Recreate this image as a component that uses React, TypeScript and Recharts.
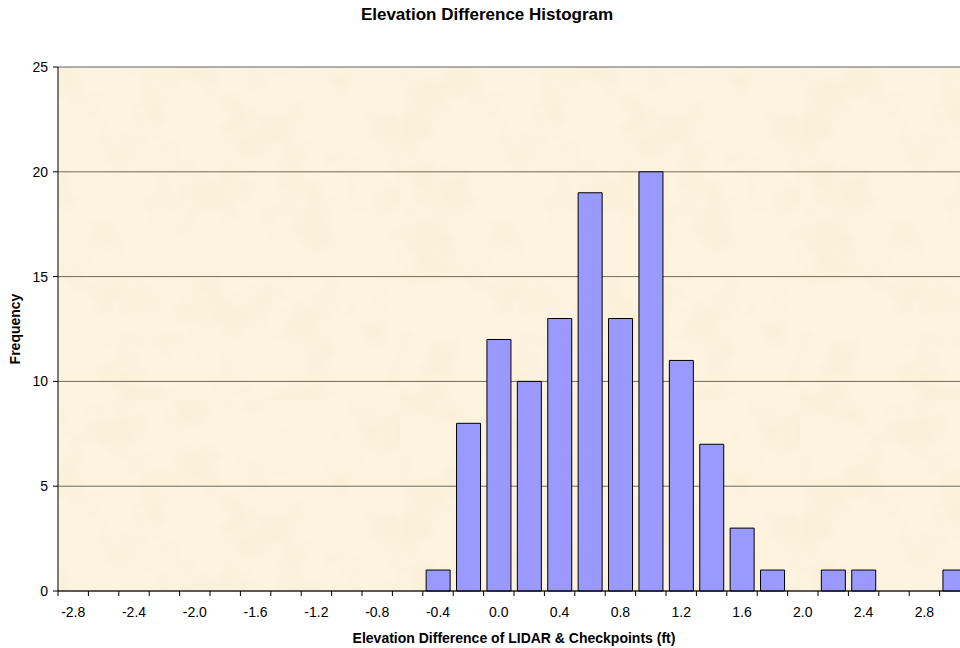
import { BarChart, Bar, XAxis, YAxis, CartesianGrid, ReferenceLine } from "recharts";

// bin centres (ft) and counts
const bins = [
  "-2.8", "-2.6", "-2.4", "-2.2", "-2.0", "-1.8", "-1.6", "-1.4", "-1.2", "-1.0",
  "-0.8", "-0.6", "-0.4", "-0.2", "0.0", "0.2", "0.4", "0.6", "0.8", "1.0",
  "1.2", "1.4", "1.6", "1.8", "2.0", "2.2", "2.4", "2.6", "2.8", "3.0",
];
const counts = [
  0, 0, 0, 0, 0, 0, 0, 0, 0, 0,
  0, 0, 1, 8, 12, 10, 13, 19, 13, 20,
  11, 7, 3, 1, 0, 1, 1, 0, 0, 1,
];
const yTicks = [0, 5, 10, 15, 20, 25];

const data = bins.map((bin, i) => ({ bin, count: counts[i] }));

const FONT = "Arial, 'Liberation Sans', Helvetica, sans-serif";

// tick mark on the left edge of each bin, label on every other bin
function BinTick(props: any) {
  const { x, y, payload, index } = props;
  const half = payload && payload.offset ? payload.offset : 15.2;
  return (
    <g>
      <line x1={x - half} x2={x - half} y1={y - 8} y2={y - 3} stroke="#000" />
      {index % 2 === 0 && (
        <text x={x} y={y + 18} textAnchor="middle" fontSize={14} fill="#000" fontFamily={FONT}>
          {payload.value}
        </text>
      )}
    </g>
  );
}

export default function App() {
  return (
    <div
      style={{
        position: "fixed",
        left: 0,
        top: 0,
        width: 960,
        height: 648,
        overflow: "hidden",
        background: "#fff",
        fontFamily: FONT,
      }}
    >
      <div
        style={{
          position: "absolute",
          top: 5,
          left: 0,
          width: 974,
          textAlign: "center",
          fontWeight: "bold",
          fontSize: 17,
          lineHeight: "20px",
        }}
      >
        Elevation Difference Histogram
      </div>

      <div
        style={{
          position: "absolute",
          left: 15 - 50,
          top: 320,
          width: 100,
          textAlign: "center",
          fontWeight: "bold",
          fontSize: 14,
          lineHeight: "18px",
          transform: "rotate(-90deg)",
        }}
      >
        Frequency
      </div>

      <div
        style={{
          position: "absolute",
          top: 629,
          left: 0,
          width: 1028,
          textAlign: "center",
          fontWeight: "bold",
          fontSize: 14,
          lineHeight: "18px",
        }}
      >
        Elevation Difference of LIDAR &amp; Checkpoints (ft)
      </div>

      <div style={{ position: "absolute", left: 0, top: 0 }}>
        <BarChart
          width={980}
          height={648}
          data={data}
          margin={{ top: 67, right: 10, bottom: 27, left: 0 }}
          barCategoryGap="11%"
        >
          <defs>
            <filter id="paperNoise" x="0" y="0" width="100%" height="100%">
              <feTurbulence type="fractalNoise" baseFrequency="0.018" numOctaves="4" seed="7" result="n" />
              <feColorMatrix
                in="n"
                type="matrix"
                values="0 0 0 0 0.93  0 0 0 0 0.84  0 0 0 0 0.64  1.3 0 0 0 -0.6"
                result="tint"
              />
              <feComposite in="tint" in2="SourceGraphic" operator="over" />
            </filter>
            <pattern id="paper" patternUnits="userSpaceOnUse" width="400" height="400">
              <rect width="400" height="400" fill="#fdf3de" filter="url(#paperNoise)" />
            </pattern>
          </defs>
          <CartesianGrid vertical={false} fill="url(#paper)" fillOpacity={1} stroke="#6f6a62" strokeWidth={1} />
          <ReferenceLine y={25} stroke="#a8a8a8" />
          <XAxis
            dataKey="bin"
            interval={0}
            height={30}
            axisLine={{ stroke: "#000" }}
            tickLine={false}
            tick={<BinTick />}
          />
          <YAxis
            width={58}
            domain={[0, 25]}
            ticks={yTicks}
            interval={0}
            axisLine={{ stroke: "#000" }}
            tickLine={{ stroke: "#000" }}
            tickSize={5}
            tickMargin={5}
            tick={{ fontSize: 14, fill: "#000", fontFamily: FONT }}
          />
          <Bar dataKey="count" fill="#9999ff" stroke="#000" strokeWidth={1} isAnimationActive={false} />
        </BarChart>
      </div>
    </div>
  );
}
